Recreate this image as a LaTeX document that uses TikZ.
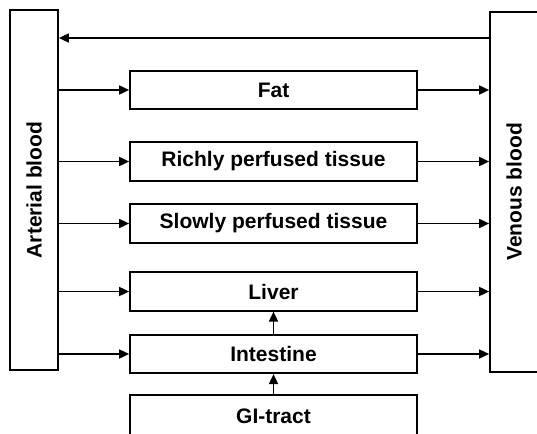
\documentclass[tikz,border=0pt]{standalone}
\usepackage{fontspec}
\setmainfont{Liberation Sans}
\usetikzlibrary{arrows.meta}
\begin{document}
\begin{tikzpicture}[x=1pt,y=-1pt,
  every node/.style={font=\fontsize{21}{23}\selectfont\bfseries},
  blood/.style={draw,line width=1.7pt,minimum width=48pt,minimum height=360pt,inner sep=0pt},
  organ/.style={draw,line width=1.7pt,minimum width=287pt,minimum height=38.5pt,inner sep=0pt},
  arr/.style={line width=1.7pt,-{Triangle[length=10pt,width=9pt]}}]
\clip (0,0) rectangle (537,433);
\fill[white] (0,0) rectangle (537,433);
\node[blood] (A) at (34,190) {};
\node[rotate=90] at (A.center) {Arterial blood};
\node[blood] (V) at (514,192) {};
\node[rotate=90] at (V.center) {Venous blood};
\node[organ] (fat) at (273.5,90) {Fat};
\node[organ] (rich) at (273.5,161.5) {Richly perfused tissue};
\node[organ] (slow) at (273.5,223.5) {Slowly perfused tissue};
\node[organ] (liver) at (273.5,291.5) {Liver};
\node[organ] (int) at (273.5,354) {Intestine};
\node[organ,minimum height=60pt,text depth=0pt] (gi) at (273.5,425) {};
\node at (273.5,416) {GI-tract};
\coordinate (t) at (273.5,38);
\draw[arr] (V.west |- t) -- (A.east |- t);
\foreach \n in {fat,rich,slow,liver,int}{
  \draw[arr] (A.east |- \n.west) -- (\n.west);
  \draw[arr] (\n.east) -- (V.west |- \n.east);
}
\draw[arr] (int.north) -- (liver.south);
\draw[arr] (gi.north) -- (int.south);
\end{tikzpicture}
\end{document}
